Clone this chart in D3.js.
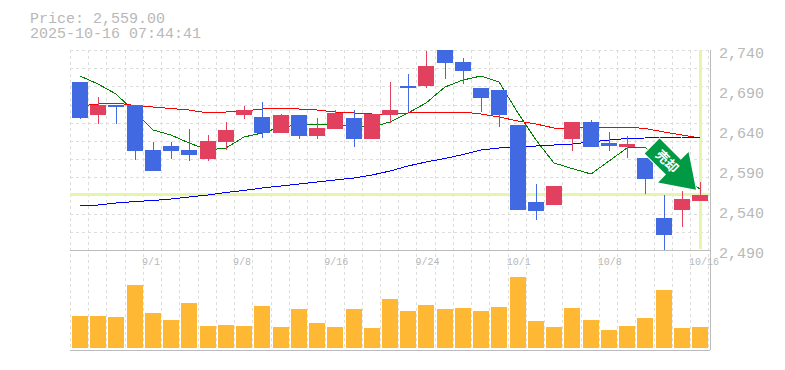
<!DOCTYPE html>
<html>
<head>
<meta charset="utf-8">
<script src="https://cdn.jsdelivr.net/npm/d3@7"></script>
<style>
  html, body { margin: 0; padding: 0; background: #fff; }
  svg { display: block; }
  text { font-family: "Liberation Mono", monospace; fill: #b8b8b8; }
</style>
</head>
<body>
<div id="chart"></div>
<script>
const dates = ["8/26","8/27","8/28","8/29","9/1","9/2","9/3","9/4","9/5","9/8","9/9","9/10","9/11","9/12","9/16","9/17","9/18","9/19","9/22","9/24","9/25","9/26","9/29","9/30","10/1","10/2","10/3","10/6","10/7","10/8","10/9","10/10","10/14","10/15","10/16"];
const dateLabels = ["9/1","9/8","9/16","9/24","10/1","10/8","10/16"];
const priceTicks = [2740, 2690, 2640, 2590, 2540, 2490];

const opens = [2700,2659,2671,2671,2615,2620,2615,2604,2625,2659,2656,2636,2659,2632.5,2641,2655,2629,2659,2695,2695,2740,2725,2692.5,2690,2646,2550,2546,2629,2650,2624,2619,2605,2530,2540,2551];
const closes = [2655,2671,2669,2614,2589,2614,2609,2626,2640,2665,2636,2659,2632.5,2642.5,2661,2629,2660,2665,2692.5,2720,2724,2714,2680,2659,2540,2539,2570,2650,2619,2620,2622.5,2579,2509,2554,2559];
const highs = [2700,2681,2671,2671,2625,2625,2641,2634,2650,2670,2675,2660,2659,2655,2665,2665,2660,2700,2710,2739,2740,2730,2692.5,2690,2646,2572.5,2570,2650,2652.5,2637.5,2632.5,2605,2559,2564,2575];
const lows = [2654,2648,2648,2602.5,2589,2604,2601,2601,2615,2654,2630,2636,2629,2629,2641,2619,2629,2649,2662.5,2692.5,2704,2697.5,2662.5,2644,2540,2527.5,2546,2614,2619,2614,2605,2560,2490,2519,2551];

const maShort = [2707.5,2697.5,2685,2662.5,2640,2633.75,2623.75,2615,2617.5,2631.25,2636.25,2643.75,2646.25,2647.5,2646.25,2644.4,2643.75,2650,2661.25,2673.75,2693.75,2702.5,2707.5,2700,2661.25,2627.5,2598.75,2591.9,2585,2601.25,2617.5,2618.75,2596.25,2580,2566.25];
const maMid = [2670,2672.5,2673.75,2670.6,2668.75,2666.9,2665,2661.25,2662.5,2663.75,2666.25,2667.5,2666.25,2665,2662.5,2661.25,2660,2660,2661.25,2662.5,2662.5,2662.5,2660,2656.25,2651.25,2647.5,2642.5,2642.5,2643.75,2643.75,2643.75,2641.9,2637.5,2633.75,2630];
const maLong = [2545,2546.25,2548.75,2550.6,2551.9,2553.75,2556.25,2558.75,2561.9,2564.4,2567.5,2570,2572.5,2575,2577.5,2580,2583.75,2588.75,2595,2600,2604.4,2609.4,2615,2617.5,2618.1,2620,2621.25,2622.5,2625,2627.5,2629.4,2630,2630.6,2631.25,2631.25];

const volume = [32,32,31,63,35,28,45,22,23,22,42,21,39,25,21,39,20,49,37,43,39,40,37,41,71,27,21,40,28,18,22,30,58,20,21];

const lastPrice = 2559;
const stamp = "2025-10-16 07:44:41";
const signalText = "売却";

const width = 785, height = 370;
const plotLeft = 70, plotRight = 710, plotTop = 50, plotMid = 250, plotBottom = 350;

const svg = d3.select("#chart").append("svg")
  .attr("width", width)
  .attr("height", height);

// scales
const x = d3.scaleBand().domain(dates).range([72, 708]).paddingInner(0.123);
const cx = (d) => Math.round(x(d) + x.bandwidth() / 2);
const y = d3.scaleLinear().domain([2490, 2740]).range([plotMid, plotTop]);
const yVol = d3.scaleLinear().domain([0, 100]).range([348, 248]);

// grid
const grid = svg.append("g").attr("stroke", "#ddd").attr("stroke-dasharray", "3,3").attr("shape-rendering", "crispEdges");

grid.selectAll("line.h")
  .data(d3.range(12))
  .join("line")
  .attr("class", "h")
  .attr("x1", plotLeft)
  .attr("x2", plotRight)
  .attr("y1", (d) => Math.round(plotTop + (d * (plotMid - plotTop)) / 11))
  .attr("y2", (d) => Math.round(plotTop + (d * (plotMid - plotTop)) / 11));

grid.selectAll("line.v")
  .data(d3.range(36))
  .join("line")
  .attr("class", "v")
  .attr("x1", (d) => Math.round(plotLeft + d * x.step()))
  .attr("x2", (d) => Math.round(plotLeft + d * x.step()))
  .attr("y1", plotTop)
  .attr("y2", plotBottom);

// current price markers
svg.append("line")
  .attr("x1", plotLeft).attr("x2", plotRight)
  .attr("y1", y(lastPrice)).attr("y2", y(lastPrice))
  .attr("stroke", "#e5f5a9").attr("stroke-width", 3)
  .attr("shape-rendering", "crispEdges");

svg.append("line")
  .attr("x1", cx(dates[34])).attr("x2", cx(dates[34]))
  .attr("y1", plotTop).attr("y2", plotMid - 1)
  .attr("stroke", "#e5f5a9").attr("stroke-width", 3)
  .attr("shape-rendering", "crispEdges");

// moving averages
const line = d3.line().x((d, i) => cx(dates[i])).y((d) => y(d));

[[maShort, "#008000"], [maMid, "#ff0000"], [maLong, "#0000ff"]].forEach(([vals, color]) => {
  svg.append("path")
    .attr("d", line(vals))
    .attr("fill", "none")
    .attr("stroke", color)
    .attr("stroke-width", 1)
    .attr("shape-rendering", "crispEdges");
});

// candles
const upColor = "#e2405f", downColor = "#4169e1";
const candles = svg.append("g").attr("shape-rendering", "crispEdges");
const candleColor = (i) => (closes[i] >= opens[i] ? upColor : downColor);

candles.selectAll("line")
  .data(dates)
  .join("line")
  .attr("x1", (d) => cx(d) + 0.5)
  .attr("x2", (d) => cx(d) + 0.5)
  .attr("y1", (d, i) => y(highs[i]))
  .attr("y2", (d, i) => y(lows[i]))
  .attr("stroke", (d, i) => candleColor(i))
  .attr("stroke-width", 1);

candles.selectAll("rect")
  .data(dates)
  .join("rect")
  .attr("x", (d) => Math.round(x(d)))
  .attr("width", 16)
  .attr("y", (d, i) => y(Math.max(opens[i], closes[i])))
  .attr("height", (d, i) => Math.abs(y(opens[i]) - y(closes[i])))
  .attr("fill", (d, i) => candleColor(i));

// volume
svg.append("g").attr("shape-rendering", "crispEdges")
  .selectAll("rect")
  .data(volume)
  .join("rect")
  .attr("x", (d, i) => Math.round(x(dates[i])))
  .attr("width", 16)
  .attr("y", (d) => yVol(d))
  .attr("height", (d) => yVol(0) - yVol(d))
  .attr("fill", "#ffb833");

// frame
const frame = svg.append("g").attr("stroke", "#bbb").attr("shape-rendering", "crispEdges");
frame.append("line").attr("x1", plotLeft).attr("x2", plotRight).attr("y1", plotMid).attr("y2", plotMid);
frame.append("line").attr("x1", plotLeft).attr("x2", plotRight).attr("y1", plotBottom).attr("y2", plotBottom);
frame.append("line").attr("x1", plotRight).attr("x2", plotRight).attr("y1", plotTop).attr("y2", plotBottom);

// axes
const yAxis = d3.axisRight(y)
  .tickValues(priceTicks)
  .tickSize(0)
  .tickPadding(9)
  .tickFormat(d3.format(","));

svg.append("g")
  .attr("transform", `translate(${plotRight},3)`)
  .call(yAxis)
  .call((g) => g.select(".domain").remove())
  .selectAll("text")
  .style("font-family", '"Liberation Mono", monospace')
  .style("font-size", "15px")
  .attr("fill", "#b8b8b8");

const xAxis = d3.axisBottom(x)
  .tickValues(dateLabels)
  .tickSize(0)
  .tickPadding(0);

svg.append("g")
  .attr("transform", `translate(0,${plotMid + 8})`)
  .call(xAxis)
  .call((g) => g.select(".domain").remove())
  .selectAll("text")
  .attr("text-anchor", "start")
  .attr("dx", -11)
  .style("font-family", '"Liberation Mono", monospace')
  .style("font-size", "10px")
  .attr("fill", "#b8b8b8");

// header
svg.append("text")
  .attr("x", 30).attr("y", 23)
  .style("font-size", "15px")
  .text(`Price: ${d3.format(",.2f")(lastPrice)}`);

svg.append("text")
  .attr("x", 30).attr("y", 38)
  .style("font-size", "15px")
  .text(stamp);

// signal arrow, tip just above the last price
const arrow = svg.append("g")
  .attr("transform", `translate(${cx(dates[34]) - 4},${y(lastPrice) - 5}) rotate(45)`);

arrow.append("path")
  .attr("d", "M0,0L-32,-21.5L-32,-10.5L-62,-10.5L-62,10.5L-32,10.5L-32,21.5Z")
  .attr("fill", "#009944")
  .attr("stroke", "#fff")
  .attr("stroke-width", 2)
  .attr("paint-order", "stroke");

arrow.append("text")
  .attr("x", -40.5)
  .attr("y", 5)
  .attr("text-anchor", "middle")
  .style("font-family", '"Noto Sans CJK JP", sans-serif')
  .style("font-size", "13px")
  .style("font-weight", "bold")
  .style("fill", "#fff")
  .text(signalText);
</script>
</body>
</html>
